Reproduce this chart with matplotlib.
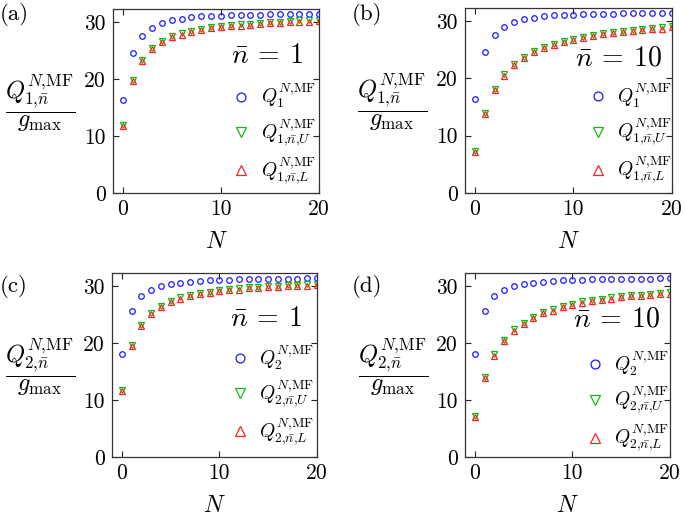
import matplotlib
matplotlib.use("Agg")
import matplotlib.pyplot as plt
import numpy as np

plt.rcParams['font.family'] = 'serif'
plt.rcParams['font.serif'] = ['cmr10', 'DejaVu Serif']
plt.rcParams['mathtext.fontset'] = 'cm'
plt.rcParams['axes.unicode_minus'] = False

N = list(range(0, 21))

Q1 = [16.4, 24.6, 27.6, 29.0, 29.8, 30.3, 30.6, 30.85, 31.0, 31.1, 31.15,
      31.2, 31.25, 31.3, 31.3, 31.35, 31.35, 31.4, 31.4, 31.4, 31.45]
Q2 = [18.1, 25.6, 28.2, 29.3, 30.0, 30.3, 30.6, 30.8, 30.9, 31.0, 31.1,
      31.15, 31.2, 31.2, 31.25, 31.25, 31.3, 31.3, 31.3, 31.35, 31.35]

Q1_n1_U = [11.9, 19.8, 23.3, 25.4, 26.7, 27.5, 28.0, 28.45, 28.8, 29.1, 29.3,
           29.5, 29.6, 29.75, 29.9, 30.0, 30.1, 30.2, 30.3, 30.3, 30.4]
Q1_n1_L = [11.7, 19.6, 23.1, 25.2, 26.5, 27.3, 27.8, 28.25, 28.6, 28.9, 29.1,
           29.3, 29.4, 29.55, 29.7, 29.8, 29.9, 30.0, 30.1, 30.1, 30.2]
Q1_n10_U = [7.3, 14.0, 18.1, 20.7, 22.5, 23.8, 24.8, 25.5, 26.1, 26.5, 26.9,
            27.3, 27.6, 27.9, 28.1, 28.3, 28.5, 28.7, 28.8, 28.9, 29.1]
Q1_n10_L = [7.1, 13.8, 17.9, 20.5, 22.3, 23.6, 24.6, 25.3, 25.9, 26.3, 26.7,
            27.1, 27.4, 27.7, 27.9, 28.1, 28.3, 28.5, 28.6, 28.7, 28.9]
Q2_n1_U = [11.8, 19.6, 23.2, 25.3, 26.5, 27.4, 28.0, 28.5, 28.8, 29.0, 29.3,
           29.5, 29.6, 29.8, 29.9, 30.0, 30.1, 30.2, 30.2, 30.3, 30.4]
Q2_n1_L = [11.6, 19.4, 23.0, 25.1, 26.3, 27.2, 27.8, 28.3, 28.6, 28.8, 29.1,
           29.3, 29.4, 29.6, 29.7, 29.8, 29.9, 30.0, 30.0, 30.1, 30.2]
Q2_n10_U = [7.2, 14.0, 18.0, 20.5, 22.4, 23.6, 24.6, 25.4, 25.9, 26.5, 26.9,
            27.3, 27.5, 27.7, 28.0, 28.2, 28.4, 28.5, 28.7, 28.8, 28.9]
Q2_n10_L = [7.0, 13.8, 17.8, 20.3, 22.2, 23.4, 24.4, 25.2, 25.7, 26.3, 26.7,
            27.1, 27.3, 27.5, 27.8, 28.0, 28.2, 28.3, 28.5, 28.6, 28.7]

panels = [
    dict(tag='(a)', idx='1', nbar='1', Q=Q1, U=Q1_n1_U, L=Q1_n1_L),
    dict(tag='(b)', idx='1', nbar='10', Q=Q1, U=Q1_n10_U, L=Q1_n10_L),
    dict(tag='(c)', idx='2', nbar='1', Q=Q2, U=Q2_n1_U, L=Q2_n1_L),
    dict(tag='(d)', idx='2', nbar='10', Q=Q2, U=Q2_n10_U, L=Q2_n10_L),
]

W, H = 685, 517
fig = plt.figure(figsize=(W / 100, H / 100), dpi=100)

# axes boxes in pixels: left, top, right, bottom
boxes = [(113, 9, 319, 193), (465, 8, 672, 193),
         (112, 273, 317, 457), (465, 273, 670, 457)]
legpos = [(0.575, 0.32), (0.595, 0.32), (0.575, 0.335), (0.585, 0.30)]
nbpos = [(0.925, 0.745), (0.955, 0.73), (0.93, 0.75), (0.955, 0.75)]
tagpos = [(0, 14), (352, 14), (0, 287), (352, 287)]

blue = '#1a1aff'
green = '#11bb11'
red = '#ff2020'

for p, box, lp, nb, tp in zip(panels, boxes, legpos, nbpos, tagpos):
    l, t, r, b = box
    ax = fig.add_axes([l / W, 1 - b / H, (r - l) / W, (b - t) / H])
    i = p['idx']
    ax.plot(N, p['Q'], 'o', ms=4.0, mfc='none', mec=blue, mew=0.9,
            label=r'$Q_{%s}^{N{,}\mathrm{MF}}$' % i)
    ax.plot(N, p['U'], 'v', ms=4.3, mfc='none', mec=green, mew=0.9,
            label=r'$Q_{%s{,}\bar{n}{,}U}^{N{,}\mathrm{MF}}$' % i)
    ax.plot(N, p['L'], '^', ms=4.3, mfc='none', mec=red, mew=0.9,
            label=r'$Q_{%s{,}\bar{n}{,}L}^{N{,}\mathrm{MF}}$' % i)
    ax.set_xlim(-1, 20)
    ax.set_ylim(0, 32.3)
    ax.set_xticks([0, 10, 20])
    ax.set_yticks([0, 10, 20, 30])
    ax.tick_params(direction='in', top=True, right=True, length=4,
                   width=0.8, labelsize=15.5, pad=5, colors='#222222',
                   labelcolor='black')
    for s in ax.spines.values():
        s.set_linewidth(0.9)
        s.set_color('#333333')
    ax.set_xlabel(r'$N$', fontsize=17, labelpad=8)
    ax.set_ylabel(r'$\dfrac{Q_{%s{,}\bar{n}}^{N{,}\mathrm{MF}}}{g_{\max}}$' % i,
                  fontsize=17.5, rotation=0, ha='center', va='center')
    ax.yaxis.set_label_coords(-0.35, 0.49)
    ax.text(nb[0], nb[1], r'$\bar{n}\:=\:%s$' % p['nbar'], transform=ax.transAxes,
            ha='right', va='center', fontsize=20)
    ax.legend(loc='center left', bbox_to_anchor=lp, frameon=False,
              fontsize=14, handlelength=1.0, handletextpad=0.5,
              labelspacing=0.35, markerscale=1.6, borderpad=0,
              borderaxespad=0)
    fig.text(tp[0] / W, 1 - tp[1] / H, p['tag'], ha='left', va='center',
             fontsize=16.5)

fig.savefig('out.png', dpi=100)
